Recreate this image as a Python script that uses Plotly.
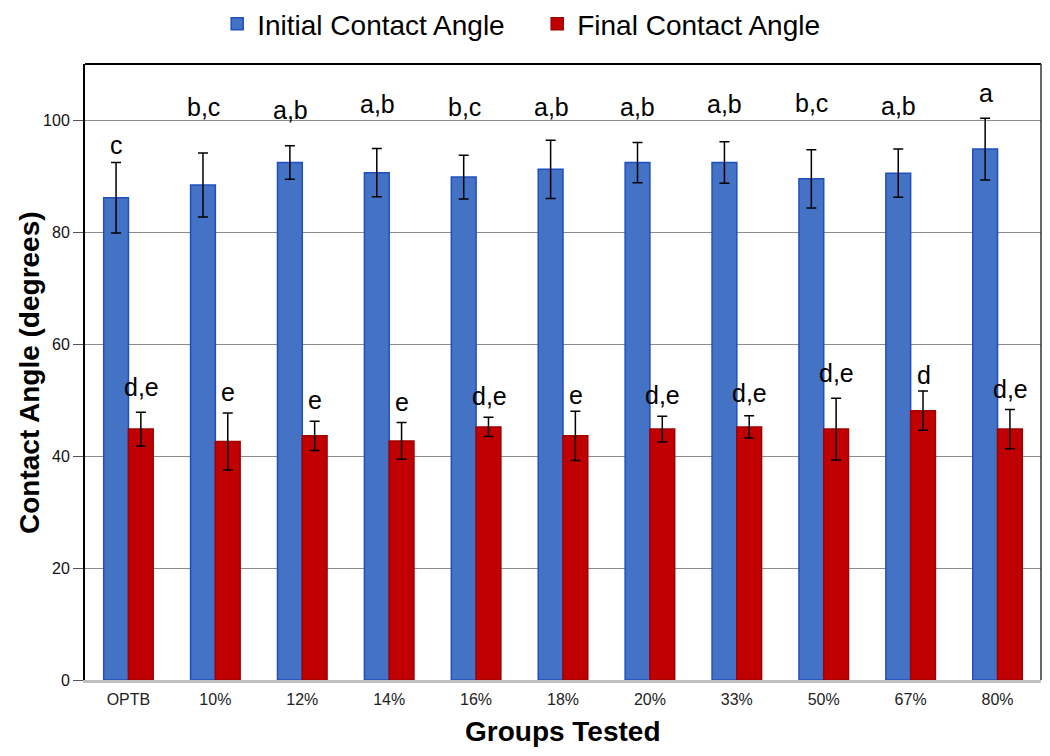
import plotly.graph_objects as go

groups = ["OPTB", "10%", "12%", "14%", "16%", "18%", "20%", "33%", "50%", "67%", "80%"]

initial = [86.1, 88.4, 92.4, 90.6, 89.8, 91.2, 92.4, 92.4, 89.5, 90.5, 94.8]
initial_err = [6.3, 5.7, 3.0, 4.3, 3.9, 5.2, 3.6, 3.7, 5.2, 4.3, 5.5]
final = [44.8, 42.6, 43.6, 42.7, 45.2, 43.6, 44.8, 45.2, 44.8, 48.1, 44.8]
final_err = [3.0, 5.1, 2.6, 3.3, 1.7, 4.4, 2.3, 2.0, 5.5, 3.5, 3.5]

initial_labels = ["c", "b,c", "a,b", "a,b", "b,c", "a,b", "a,b", "a,b", "b,c", "a,b", "a"]
initial_label_y = [95.6, 102.4, 101.8, 102.9, 102.4, 102.4, 102.4, 102.9, 103.0, 102.5, 104.8]
final_labels = ["d,e", "e", "e", "e", "d,e", "e", "d,e", "d,e", "d,e", "d", "d,e"]
final_label_y = [52.3, 51.5, 50.0, 49.7, 50.7, 50.9, 50.9, 51.2, 54.8, 54.5, 51.9]

y_ticks = [0, 20, 40, 60, 80, 100]

FONT = "Liberation Sans, Arial, Helvetica, sans-serif"
BLUE = "#4472C4"
BLUE_EDGE = "#1F4FBF"
RED = "#C00000"
RED_EDGE = "#A00000"

fig = go.Figure()
fig.add_trace(go.Bar(
    x=groups, y=initial, name="Initial Contact Angle",
    marker=dict(color=BLUE, line=dict(color=BLUE_EDGE, width=1.5)),
    error_y=dict(type="data", array=initial_err, visible=True,
                 color="black", thickness=1.5, width=5),
))
fig.add_trace(go.Bar(
    x=groups, y=final, name="Final Contact Angle",
    marker=dict(color=RED, line=dict(color=RED_EDGE, width=1.5)),
    error_y=dict(type="data", array=final_err, visible=True,
                 color="black", thickness=1.5, width=5),
))

annotations = []
for g, lab, yv in zip(groups, initial_labels, initial_label_y):
    annotations.append(dict(x=g, y=yv, xref="x", yref="y", text=lab, showarrow=False,
                            xshift=-12, yanchor="middle",
                            font=dict(family=FONT, size=25, color="black")))
for g, lab, yv in zip(groups, final_labels, final_label_y):
    annotations.append(dict(x=g, y=yv, xref="x", yref="y", text=lab, showarrow=False,
                            xshift=13, yanchor="middle",
                            font=dict(family=FONT, size=25, color="black")))

annotations.append(dict(x=0.5, y=-0.083, xref="paper", yref="paper", text="<b>Groups Tested</b>",
                        showarrow=False, xanchor="center", yanchor="middle",
                        font=dict(family=FONT, size=28, color="black")))
annotations.append(dict(x=-0.0586, y=0.5, xref="paper", yref="paper",
                        text="<b>Contact Angle (degrees)</b>", textangle=-90,
                        showarrow=False, xanchor="center", yanchor="middle",
                        font=dict(family=FONT, size=28, color="black")))

shapes = [
    dict(type="line", xref="paper", yref="paper", x0=0, x1=1, y0=1, y1=1,
         line=dict(color="black", width=2)),
    dict(type="line", xref="paper", yref="paper", x0=1, x1=1, y0=0, y1=1,
         line=dict(color="#333333", width=1.5)),
]

fig.update_layout(
    width=1042, height=748,
    margin=dict(l=77, r=9, t=56, b=76, autoexpand=False),
    paper_bgcolor="white", plot_bgcolor="white",
    barmode="group", bargap=0.43, bargroupgap=0,
    font=dict(family=FONT, color="black"),
    showlegend=True,
    legend=dict(orientation="h", x=0.473, y=1.065, xanchor="center", yanchor="middle",
                entrywidth=275, entrywidthmode="pixels",
                font=dict(family=FONT, size=28, color="black"),
                bgcolor="rgba(0,0,0,0)"),
    annotations=annotations,
    shapes=shapes,
)
fig.update_xaxes(
    type="category", showgrid=False, zeroline=False,
    showline=True, linecolor="#BFBFBF", linewidth=2.5,
    ticks="outside", ticklen=3, tickcolor="rgba(0,0,0,0)",
    tickfont=dict(family=FONT, size=16, color="#222222"),
)
fig.update_yaxes(
    range=[0, 110], tickvals=y_ticks, ticktext=[str(v) for v in y_ticks],
    showgrid=True, gridcolor="#8C8C8C", gridwidth=1, zeroline=False,
    showline=True, linecolor="black", linewidth=2,
    ticks="outside", ticklen=10, tickcolor="#555555", tickwidth=1,
    tickfont=dict(family=FONT, size=16, color="#111111"),
)

fig.write_html("out.html")
